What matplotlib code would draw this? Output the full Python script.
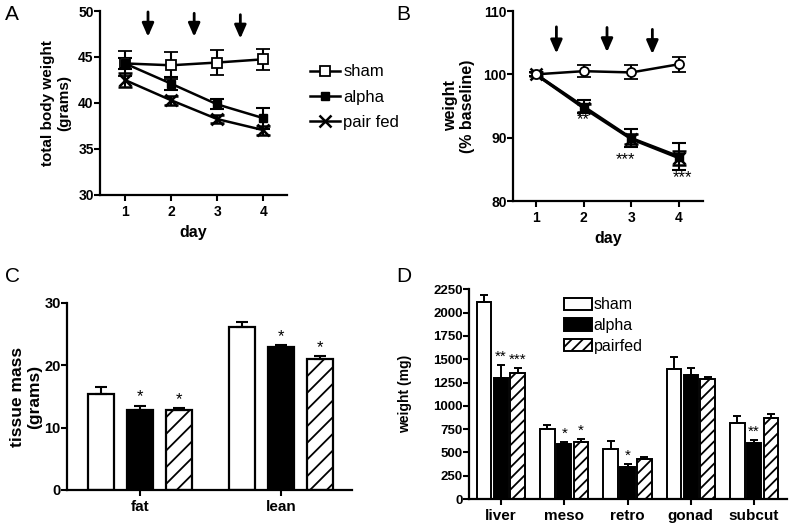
import numpy as np
import matplotlib.pyplot as plt

plt.rcParams['font.family'] = ['Liberation Sans', 'DejaVu Sans']
plt.rcParams['hatch.linewidth'] = 1.3

# panel A - total body weight (grams)
days = [1, 2, 3, 4]
a_sham = [44.3, 44.1, 44.4, 44.75]
a_sham_err = [1.35, 1.45, 1.4, 1.15]
a_alpha = [44.3, 42.1, 39.85, 38.35]
a_alpha_err = [0.6, 0.7, 0.55, 1.15]
a_pair = [42.5, 40.3, 38.25, 37.05]
a_pair_err = [0.75, 0.5, 0.4, 0.5]
a_arrow_x = [1.5, 2.5, 3.5]
a_arrow_top = [49.9, 49.75, 49.6]
a_arrow_tip = [47.2, 47.2, 47.0]

# panel B - weight (% baseline)
b_sham = [100.0, 100.5, 100.3, 101.6]
b_sham_err = [0.3, 0.9, 1.1, 1.2]
b_alpha = [100.0, 94.9, 89.9, 87.0]
b_alpha_err = [0.3, 1.0, 1.4, 2.1]
b_pair = [100.0, 94.7, 89.8, 86.8]
b_pair_err = [0.3, 0.6, 0.8, 1.1]
b_arrow_x = [1.43, 2.49, 3.44]
b_arrow_top = [107.5, 107.4, 107.1]
b_arrow_tip = [103.3, 103.5, 103.2]
b_star_x = [2.0, 2.87, 4.08]
b_star_y = [92.8, 86.5, 83.7]
b_star_txt = ['**', '***', '***']

# panel C - tissue mass (grams)
c_groups = ['fat', 'lean']
c_sham = [15.35, 26.2]
c_sham_err = [1.15, 0.8]
c_alpha = [12.85, 22.9]
c_alpha_err = [0.65, 0.35]
c_pair = [12.85, 20.95]
c_pair_err = [0.3, 0.5]
c_alpha_star = ['*', '*']
c_pair_star = ['*', '*']

# panel D - organ weight (mg)
d_groups = ['liver', 'meso', 'retro', 'gonad', 'subcut']
d_sham = [2118, 750, 533, 1395, 812]
d_sham_err = [71, 45, 89, 132, 78]
d_alpha = [1299, 590, 347, 1330, 604]
d_alpha_err = [136, 25, 25, 79, 29]
d_pair = [1353, 615, 432, 1288, 866]
d_pair_err = [53, 25, 22, 17, 43]
d_alpha_star = ['**', '*', '*', '', '**']
d_pair_star = ['***', '*', '', '', '']

fig = plt.figure(figsize=(7.91, 5.24), dpi=100)

def style(ax, fs=10):
    for s in ['top', 'right']:
        ax.spines[s].set_visible(False)
    for s in ['left', 'bottom']:
        ax.spines[s].set_linewidth(1.6)
    ax.tick_params(width=1.5, length=4, labelsize=fs)
    ax.tick_params(axis='y', pad=0.5)
    for lab in ax.get_xticklabels() + ax.get_yticklabels():
        lab.set_fontweight('bold')

def arrows(ax, xs, tops, tips):
    for x, t, b in zip(xs, tops, tips):
        ax.annotate('', xy=(x, b), xytext=(x, t),
                    arrowprops=dict(arrowstyle='-|>,head_width=0.35,head_length=0.8',
                                    lw=2, color='k', shrinkA=0, shrinkB=0))

# ---- A
axA = fig.add_axes([0.1264, 0.6279, 0.2364, 0.3511])
eA1 = axA.errorbar(days, a_sham, yerr=a_sham_err, color='k', lw=1.8, marker='s', ms=6.5,
                   mfc='white', mew=1.3, capsize=5, elinewidth=1.5, capthick=1.5, zorder=3)
eA2 = axA.errorbar(days, a_alpha, yerr=a_alpha_err, color='k', lw=1.8, marker='s', ms=6,
                   capsize=5, elinewidth=1.5, capthick=1.5, zorder=3)
eA3 = axA.errorbar(days, a_pair, yerr=a_pair_err, color='k', lw=1.8, marker='x', ms=8, mew=1.8,
                   capsize=5, elinewidth=1.5, capthick=1.5, zorder=3)
arrows(axA, a_arrow_x, a_arrow_top, a_arrow_tip)
axA.set_xlim(0.46, 4.51)
axA.set_ylim(30, 50)
axA.set_xticks(days)
axA.set_yticks([30, 35, 40, 45, 50])
axA.set_xlabel('day', fontsize=11.5, fontweight='bold')
axA.set_ylabel('total body weight\n(grams)', fontsize=11, fontweight='bold', labelpad=5)
style(axA)
axA.legend([eA1[0], eA2[0], eA3[0]], ['sham', 'alpha', 'pair fed'], loc='upper left',
           bbox_to_anchor=(1.123, 0.71), frameon=False, fontsize=12, handlelength=1.8,
           handletextpad=0.2, labelspacing=0.62, borderpad=0, borderaxespad=0)

# ---- B
axB = fig.add_axes([0.6485, 0.6164, 0.2402, 0.3626])
axB.errorbar(days, b_alpha, yerr=b_alpha_err, color='k', lw=2.2, marker='s', ms=6,
             capsize=5, elinewidth=1.5, capthick=1.5, zorder=3)
axB.errorbar(days, b_pair, yerr=b_pair_err, color='k', lw=2.2, marker='x', ms=8, mew=1.8,
             capsize=5, elinewidth=1.5, capthick=1.5, zorder=3)
axB.errorbar(days, b_sham, yerr=b_sham_err, color='k', lw=1.8, marker='o', ms=6.5,
             mfc='white', mew=1.3, capsize=5, elinewidth=1.5, capthick=1.5, zorder=4)
arrows(axB, b_arrow_x, b_arrow_top, b_arrow_tip)
for x, y, t in zip(b_star_x, b_star_y, b_star_txt):
    axB.text(x, y, t, ha='center', va='center', fontsize=12)
axB.set_xlim(0.52, 4.5)
axB.set_ylim(80, 110)
axB.set_xticks(days)
axB.set_yticks([80, 90, 100, 110])
axB.set_xlabel('day', fontsize=11.5, fontweight='bold')
axB.set_ylabel('weight\n(% baseline)', fontsize=11.5, fontweight='bold', labelpad=6)
style(axB)

# ---- C
axC = fig.add_axes([0.0847, 0.0649, 0.3603, 0.3569])
xc = np.arange(len(c_groups))
pc, wc = 0.277, 0.184
zc = [0] * len(c_groups)
axC.bar(xc - pc, c_sham, wc, color='white', edgecolor='k', lw=1.6,
        yerr=[zc, c_sham_err], capsize=4.5, error_kw=dict(elinewidth=1.5, capthick=1.5))
axC.bar(xc, c_alpha, wc, color='k', edgecolor='k', lw=1.6,
        yerr=[zc, c_alpha_err], capsize=4.5, error_kw=dict(elinewidth=1.5, capthick=1.5))
axC.bar(xc + pc, c_pair, wc, color='white', edgecolor='k', lw=1.6, hatch='//',
        yerr=[zc, c_pair_err], capsize=4.5, error_kw=dict(elinewidth=1.5, capthick=1.5))
for i in range(len(c_groups)):
    axC.text(xc[i], c_alpha[i] + c_alpha_err[i] + 0.2, c_alpha_star[i], ha='center', va='bottom', fontsize=12)
    axC.text(xc[i] + pc, c_pair[i] + c_pair_err[i] + 0.2, c_pair_star[i], ha='center', va='bottom', fontsize=12)
axC.set_xlim(-0.518, 1.504)
axC.set_ylim(0, 30)
axC.set_xticks(xc)
axC.set_xticklabels(c_groups)
axC.set_yticks([0, 10, 20, 30])
axC.set_ylabel('tissue mass\n(grams)', fontsize=12.5, fontweight='bold', labelpad=1.5)
style(axC, fs=10.5)
for lab in axC.get_xticklabels():
    lab.set_fontsize(11)

# ---- D
axD = fig.add_axes([0.5929, 0.0477, 0.4020, 0.4002])
xd = np.arange(len(d_groups))
pd_, wd = 0.265, 0.229
zd = [0] * len(d_groups)
axD.bar(xd - pd_, d_sham, wd, color='white', edgecolor='k', lw=1.4, label='sham',
        yerr=[zd, d_sham_err], capsize=2.8, error_kw=dict(elinewidth=1.4, capthick=1.4))
axD.bar(xd, d_alpha, wd, color='k', edgecolor='k', lw=1.4, label='alpha',
        yerr=[zd, d_alpha_err], capsize=2.8, error_kw=dict(elinewidth=1.4, capthick=1.4))
axD.bar(xd + pd_, d_pair, wd, color='white', edgecolor='k', lw=1.4, hatch='///', label='pairfed',
        yerr=[zd, d_pair_err], capsize=2.8, error_kw=dict(elinewidth=1.4, capthick=1.4))
for i in range(len(d_groups)):
    axD.text(xd[i], d_alpha[i] + d_alpha_err[i] + 15, d_alpha_star[i], ha='center', va='bottom', fontsize=11)
    axD.text(xd[i] + pd_, d_pair[i] + d_pair_err[i] + 15, d_pair_star[i], ha='center', va='bottom', fontsize=11)
axD.set_xlim(-0.505, 4.52)
axD.set_ylim(0, 2250)
axD.set_xticks(xd)
axD.set_xticklabels(d_groups)
axD.set_yticks(np.arange(0, 2251, 250))
axD.set_ylabel('weight (mg)', fontsize=10, fontweight='bold', labelpad=15)
style(axD, fs=9.5)
for lab in axD.get_xticklabels():
    lab.set_fontsize(11)
axD.legend(loc='upper left', bbox_to_anchor=(0.2995, 0.961), frameon=False, fontsize=11.5,
           handlelength=1.75, handleheight=0.8, handletextpad=0.1, labelspacing=0.35,
           borderpad=0, borderaxespad=0)

for t, x, y in [('A', 5, 20), ('B', 396, 20), ('C', 5, 282), ('D', 396, 282)]:
    fig.text(x / 791, 1 - y / 524, t, fontsize=15)

fig.savefig('out.png', dpi=100)
